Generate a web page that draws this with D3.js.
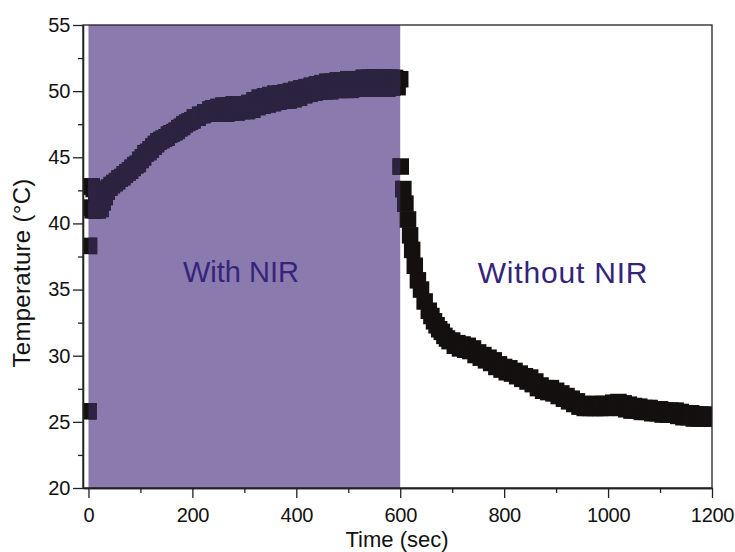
<!DOCTYPE html>
<html><head><meta charset="utf-8">
<script src="https://cdn.jsdelivr.net/npm/d3@7"></script>
<style>body{margin:0;background:#fff}svg{display:block}text{font-family:"Liberation Sans",Arial,sans-serif}</style>
</head><body><svg id="c" width="735" height="552"></svg>
<script>
// Heating phase (with NIR), time in s, temperature in °C
const heatTime = [0,1,2,4,6,8,10,12,15,18,21,23,27,31,35,40,45,50,55,60,65,70,75,80,85,90,95,100,105,110,115,120,125,130,135,140,145,150,155,160,165,170,175,180,185,190,195,200,205,210,215,220,225,230,235,240,245,250,255,260,265,270,275,280,285,290,295,300,305,310,315,320,325,330,335,340,345,350,355,360,365,370,375,380,385,390,395,400,405,410,415,420,425,430,435,440,445,450,455,460,465,470,475,480,485,490,495,500,505,510,515,520,525,530,535,540,545,550,555,560,565,570,575,580,585,590,595,600];
const heatTemp = [25.8,38.3,42.8,41.2,42.8,41.0,42.6,41.0,42.4,41.0,42.2,41.1,41.6,42.0,42.4,42.7,42.9,43.05,43.2,43.4,43.5,43.7,43.85,44.0,44.2,44.4,44.5,44.8,45.0,45.3,45.4,45.6,45.8,46.0,46.2,46.3,46.4,46.5,46.7,46.8,46.9,47.0,47.2,47.3,47.5,47.6,47.7,47.8,48.0,48.0,48.2,48.2,48.4,48.3,48.6,48.7,48.3,48.8,48.3,48.9,48.3,48.9,48.4,49.0,48.4,49.0,48.5,49.0,48.5,49.1,48.6,49.3,48.8,49.5,48.9,49.6,49.0,49.7,49.1,49.8,49.2,49.8,49.3,49.9,49.3,50.0,49.4,50.1,49.5,50.2,49.7,50.3,49.8,50.4,49.9,50.5,50.0,50.6,50.0,50.7,50.0,50.7,50.1,50.8,50.1,50.8,50.1,50.9,50.1,50.9,50.2,50.9,50.2,51.0,50.2,51.0,50.2,51.0,50.2,51.0,50.2,51.0,50.2,51.0,50.3,51.0,50.3,50.9];
// Cooling phase (without NIR)
const coolTime = [601,606,610,615,619,623,628,634,640,647,655,660,665,670,675,680,685,690,695,700,705,710,715,720,725,730,735,740,745,750,755,760,765,770,775,780,785,790,795,800,805,810,815,820,825,830,835,840,845,850,855,860,865,870,875,880,885,890,895,900,905,910,915,920,925,930,935,940,945,950,955,960,965,970,975,980,985,990,995,1000,1005,1010,1015,1020,1025,1030,1035,1040,1045,1050,1055,1060,1065,1070,1075,1080,1085,1090,1095,1100,1105,1110,1115,1120,1125,1130,1135,1140,1145,1150,1155,1160,1165,1170,1175,1180,1185,1190,1195,1200];
const coolTemp = [44.3,42.6,41.5,40.3,39.1,38.0,36.8,35.7,35.0,34.1,33.4,33.0,32.6,32.3,32.0,31.8,31.5,31.3,31.1,31.15,30.75,30.95,30.55,30.85,30.45,30.75,30.35,30.55,30.05,30.25,29.85,30.05,29.65,29.85,29.45,29.65,29.15,29.35,28.95,29.15,28.75,29.05,28.65,28.85,28.45,28.65,28.25,28.45,28.05,28.35,27.85,28.05,27.55,27.75,27.35,27.55,27.25,27.55,27.15,27.35,26.95,27.15,26.75,26.95,26.55,26.75,26.35,26.55,26.15,26.35,26.05,26.25,26.05,26.35,26.05,26.35,26.05,26.35,26.05,26.35,26.1,26.45,26.1,26.5,26.05,26.4,25.95,26.3,25.85,26.2,25.85,26.15,25.75,26.05,25.75,26.05,25.65,25.95,25.65,25.95,25.55,25.85,25.55,25.85,25.55,25.85,25.45,25.75,25.35,25.65,25.35,25.65,25.25,25.55,25.25,25.55,25.25,25.55,25.25,25.5];
const xTicks = [0,200,400,600,800,1000,1200];
const yTicks = [20,25,30,35,40,45,50,55];
const nirStart = 0, nirEnd = 600;
const regionLabels = ["With NIR","Without NIR"];
const xTitle = "Time (sec)", yTitle = "Temperature (°C)";

const svg = d3.select("#c");
const L=83, R=712, T=25, B=488;
const x = d3.scaleLinear().domain([-10.5,1200]).range([L,R]);
const y = d3.scaleLinear().domain([20,55]).range([B,T]);
const pts = heatTime.map((t,i)=>({t,v:heatTemp[i]})).concat(coolTime.map((t,i)=>({t,v:coolTemp[i]})));

const defs = svg.append("defs");
defs.append("clipPath").attr("id","plot").append("rect").attr("x",L).attr("y",T).attr("width",R-L).attr("height",B-T);
defs.append("clipPath").attr("id","nir").append("rect").attr("x",x(nirStart)).attr("y",T).attr("width",x(nirEnd)-x(nirStart)).attr("height",B-T);

svg.append("rect").attr("x",x(nirStart)).attr("y",T).attr("width",x(nirEnd)-x(nirStart)).attr("height",B-T).attr("fill","#8b7aae");

const S=16.5;
svg.append("g").attr("clip-path","url(#plot)").selectAll("rect").data(pts).join("rect")
  .attr("x",d=>x(d.t)-S/2).attr("y",d=>y(d.v)-S/2).attr("width",S).attr("height",S).attr("fill","#141010");
svg.append("g").attr("clip-path","url(#nir)").selectAll("rect").data(pts).join("rect")
  .attr("x",d=>x(d.t)-S/2).attr("y",d=>y(d.v)-S/2).attr("width",S).attr("height",S).attr("fill","#2c2341");

// frame
svg.append("rect").attr("x",L).attr("y",T).attr("width",R-L).attr("height",B-T).attr("fill","none").attr("stroke","#222").attr("stroke-width",1.3);

const fmt = d3.format("d");
const xAxis = svg.append("g").attr("transform",`translate(0,${B})`)
  .call(d3.axisBottom(x).tickValues(xTicks).tickFormat(fmt).tickSize(10).tickSizeOuter(0).tickPadding(5));
const xMinor = svg.append("g").attr("transform",`translate(0,${B})`)
  .call(d3.axisBottom(x).tickValues(d3.range(100,1200,200)).tickSize(5).tickSizeOuter(0).tickFormat(""));
const yAxis = svg.append("g").attr("transform",`translate(${L},0)`)
  .call(d3.axisLeft(y).tickValues(yTicks).tickFormat(fmt).tickSize(10).tickSizeOuter(0).tickPadding(3));
const yMinor = svg.append("g").attr("transform",`translate(${L},0)`)
  .call(d3.axisLeft(y).tickValues(d3.range(22.5,55,5)).tickSize(5).tickSizeOuter(0).tickFormat(""));
[xAxis,xMinor,yAxis,yMinor].forEach(g=>{
  g.select(".domain").attr("stroke","#222").attr("stroke-width",1.3);
  g.selectAll("line").attr("stroke","#222").attr("stroke-width",1.3);
  g.selectAll("text").attr("font-size",20).attr("fill","#111").attr("font-family","Liberation Sans, Arial, sans-serif").attr("letter-spacing","-0.3");
});
xAxis.selectAll("text").attr("dy","0.95em");

svg.append("text").attr("x",397).attr("y",547).attr("text-anchor","middle").attr("font-size",22).attr("fill","#111").text(xTitle);
svg.append("text").attr("transform","translate(30,273) rotate(-90)").attr("text-anchor","middle").attr("font-size",24).attr("fill","#111").attr("letter-spacing","0.3").text(yTitle);

svg.append("text").attr("x",241).attr("y",282).attr("text-anchor","middle").attr("font-size",29).attr("fill","#34247a").text(regionLabels[0]);
svg.append("text").attr("x",563).attr("y",283).attr("text-anchor","middle").attr("font-size",30).attr("fill","#34247a").attr("letter-spacing","0.8").text(regionLabels[1]);
</script></body></html>
